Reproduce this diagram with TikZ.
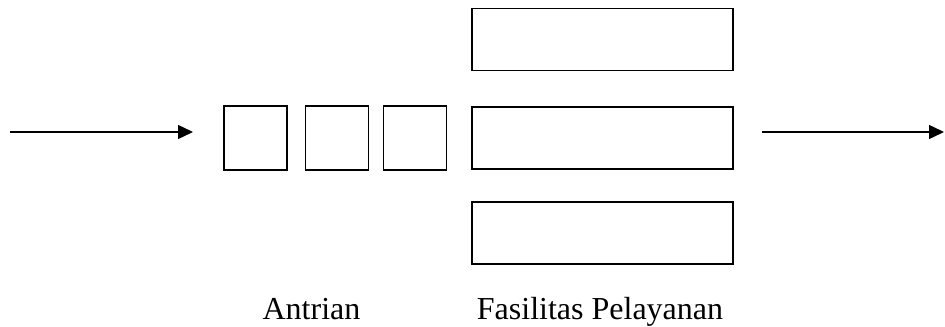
\documentclass[tikz,border=0pt]{standalone}
\usepackage{fontspec}
\setmainfont{Liberation Serif}
\usetikzlibrary{arrows.meta}

\tikzset{
    slot/.style={draw, line width=0.7pt, inner sep=0pt, minimum width=31.5pt, minimum height=32pt},
    server/.style={draw, line width=0.7pt, inner sep=0pt, minimum width=130.5pt, minimum height=31pt},
    flow/.style={line width=0.7pt, -{Triangle[length=7.5pt,width=7pt]}},
    caption/.style={anchor=base, inner sep=0pt, font=\fontsize{16pt}{19pt}\selectfont}
}

\begin{document}
\begin{tikzpicture}[x=0.5pt, y=-0.5pt]
        \useasboundingbox (0,0) rectangle (945,326);
        %\draw [help lines, step=50] (0,0) grid (945,326);

        % antrian
        \node [slot] (q1) at (255.5,138) {};
        \node [slot] (q2) at (337,138) {};
        \node [slot] (q3) at (415,138) {};

        % fasilitas pelayanan
        \node [server] (s1) at (602.5,39.5) {};
        \node [server] (s2) at (602.5,138) {};
        \node [server] (s3) at (602.5,233) {};

        % arus masuk dan keluar
        \coordinate (in) at (10,132);
        \coordinate (inend) at (193,132);
        \coordinate (out) at (762,132);
        \coordinate (outend) at (944,132);
        \draw [flow] (in) -- (inend);
        \draw [flow] (out) -- (outend);

        \node [caption] (antri) at (311.5,319) {Antrian};
        \node [caption] (layan) at (600,319) {Fasilitas Pelayanan};

    \end{tikzpicture}
\end{document}
